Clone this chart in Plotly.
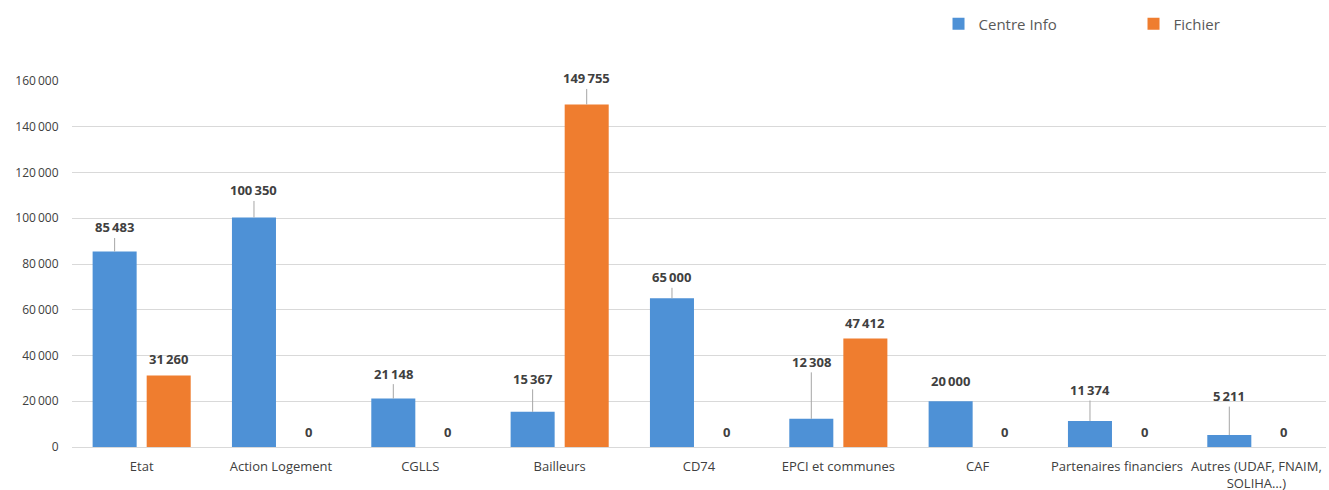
import plotly.graph_objects as go

categories = ["Etat", "Action Logement", "CGLLS", "Bailleurs", "CD74",
              "EPCI et communes", "CAF", "Partenaires financiers",
              "Autres (UDAF, FNAIM,<br>SOLIHA…)"]
centre_info = [85483, 100350, 21148, 15367, 65000, 12308, 20000, 11374, 5211]
fichier = [31260, 0, 0, 149755, 0, 47412, 0, 0, 0]

# label offsets (pixels above bar top), as placed in the original
off_ci = [24, 27, 25, 33, 21, 57, 20, 31, 39]
off_fi = [16, 0, 0, 26, 0, 16, 0, 0, 0]

BLUE = "#4e91d6"
ORANGE = "#ef7d2f"
TXT = "#404040"
FONT = "'Open Sans', Lato, sans-serif"
BAR_W = 0.316
OFF_A, OFF_B = -0.352, 0.036

def fmt(v):
    return f"{v:,}".replace(",", "\u2009")

fig = go.Figure()
fig.add_trace(go.Bar(name="Centre Info", x=categories, y=centre_info, width=BAR_W, offset=OFF_A,
                     marker=dict(color=BLUE, line=dict(width=0))))
fig.add_trace(go.Bar(name="Fichier", x=categories, y=fichier, width=BAR_W, offset=OFF_B,
                     marker=dict(color=ORANGE, line=dict(width=0))))

annotations = []
for series, offs, shift in ((centre_info, off_ci, OFF_A + BAR_W / 2),
                            (fichier, off_fi, OFF_B + BAR_W / 2)):
    for i, (c, v) in enumerate(zip(categories, series)):
        xpos = i + shift
        if v == 0:
            annotations.append(dict(x=xpos, y=0, xref="x", yref="y", text="<b>0</b>",
                                    showarrow=False, yshift=15,
                                    font=dict(family=FONT, size=13, color=TXT)))
        else:
            o = offs[i]
            annotations.append(dict(x=xpos, y=v, xref="x", yref="y", text="<b>" + fmt(v) + "</b>",
                                    showarrow=o > 20, ax=0, ay=-o, arrowhead=0,
                                    arrowwidth=1, arrowcolor="#a6a6a6", standoff=0,
                                    yshift=0 if o > 20 else o,
                                    font=dict(family=FONT, size=13, color=TXT)))

fig.update_layout(
    width=1329, height=490,
    margin=dict(l=72, r=3, t=5, b=43, autoexpand=False),
    paper_bgcolor="white", plot_bgcolor="white",
    barmode="group",
    font=dict(family=FONT, size=12, color="#595959"),
    legend=dict(orientation="h", x=0.691, y=0.957, xanchor="left", yanchor="middle",
                font=dict(family=FONT, size=15, color="#595959"),
                entrywidth=150, entrywidthmode="pixels", itemwidth=30),
    annotations=annotations,
    showlegend=True,
)
fig.update_xaxes(type="category", tickfont=dict(size=13, color="#404040"),
                 showline=True, linecolor="#d9d9d9", linewidth=1, ticks="",
                 automargin=False, ticklabelstandoff=7)
fig.update_yaxes(range=[0, 160000], dtick=20000, tickformat=",d",
                 domain=[0, 0.828], automargin=False,
                 showgrid=True, gridcolor="#d9d9d9",
                 gridwidth=1, zeroline=False, showline=False,
                 tickfont=dict(size=12, color="#404040"), ticksuffix="    ")
fig.update_layout(separators=".\u2009")
fig.write_html("out.html", config={"displayModeBar": False},
               post_script="document.body.style.margin='0';document.body.style.overflow='hidden';")
